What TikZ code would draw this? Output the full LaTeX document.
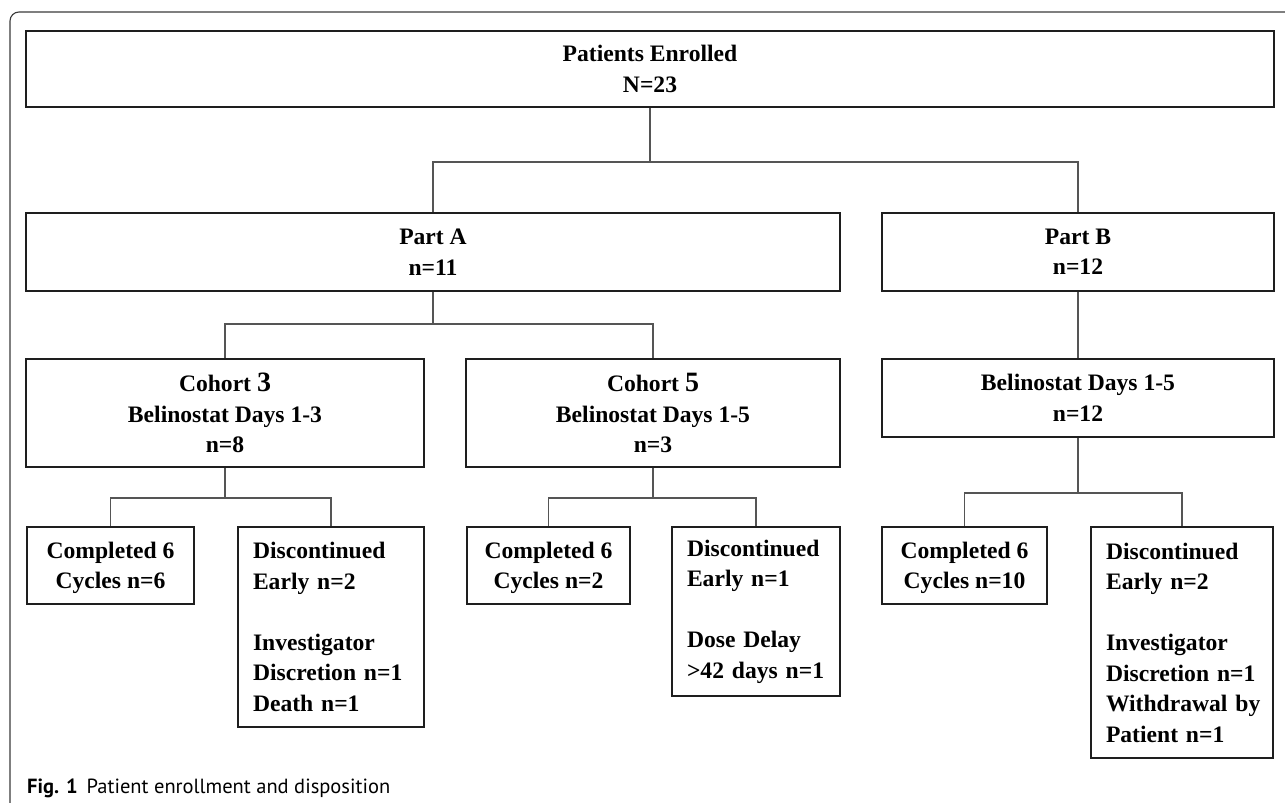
\documentclass[tikz,border=0pt]{standalone}
\usepackage{fontspec}
\setmainfont{Liberation Serif}
\newfontfamily\capfont{PT Sans}
\definecolor{boxc}{HTML}{1E1E1E}
\definecolor{connc}{HTML}{555555}
\definecolor{framec}{HTML}{3A3A3A}
\tikzset{
  box/.style={draw=boxc, line width=1.8pt, inner sep=0pt, fill=white,
    font=\bfseries\fontsize{23.6}{30.5}\selectfont, align=center},
  lbox/.style={box, align=left, text width=#1, inner xsep=15pt, inner ysep=0pt},
  cbox/.style={box, text depth=0pt},
  conn/.style={draw=connc, line width=1.2pt},
  framel/.style={draw=framec, line width=1.1pt, rounded corners=9pt},
}
\newcommand{\bignum}[1]{{\fontsize{28}{30.5}\selectfont #1}}
\begin{document}
\begin{tikzpicture}[x=1pt,y=-1pt]
\useasboundingbox (0,0) rectangle (1285,803);
\draw[framel] (10,803) -- (10,12) -- (1285,12);

\node[box, minimum width=1248pt, minimum height=76pt] (top) at (650,69) {Patients Enrolled\\N=23};
\node[box, minimum width=814pt, minimum height=78pt] (partA) at (433,252) {Part A\\n=11};
\node[box, minimum width=392pt, minimum height=78pt] (partB) at (1078,252) {Part B\\n=12};
\node[box, minimum width=398pt, minimum height=108pt] (coh3) at (225,413) {Cohort \bignum{3}\\Belinostat Days 1-3\\n=8};
\node[box, minimum width=374pt, minimum height=108pt] (coh5) at (653,413) {Cohort \bignum{5}\\Belinostat Days 1-5\\n=3};
\node[box, minimum width=392pt, minimum height=78pt] (belB) at (1078,398) {Belinostat Days 1-5\\n=12};

\node[cbox, minimum width=167pt, minimum height=77pt] (ca3) at (110.5,565.5) {Completed 6\\Cycles n=6};
\node[lbox=156pt, minimum height=200pt] (da3) at (331,627) {Discontinued\\Early~n=2\\[30.5pt]Investigator\\Discretion~n=1\\Death~n=1};
\node[cbox, minimum width=163pt, minimum height=77pt] (cc5) at (548.5,565.5) {Completed 6\\Cycles n=2};
\node[lbox=138pt, minimum height=169pt] (dc5) at (756,611.5) {Discontinued\\Early~n=1\\[30.5pt]Dose~Delay\\>42~days~n=1};
\node[cbox, minimum width=165pt, minimum height=77pt] (cb) at (964.5,565.5) {Completed 6\\Cycles n=10};
\node[lbox=152pt, minimum height=231pt] (db) at (1182,642.5) {Discontinued\\Early~n=2\\[30.5pt]Investigator\\Discretion~n=1\\Withdrawal~by\\Patient~n=1};

\draw[conn] (top.south) -- ++(0,54) -| (partA.north);
\draw[conn] (top.south) ++(0,54) -| (partB.north);
\draw[conn] (partA.south) -- ++(0,32) -| (coh3.north);
\draw[conn] (partA.south) ++(0,32) -| (coh5.north);
\draw[conn] (partB.south) -- (belB.north);
\draw[conn] (coh3.south) -- ++(0,30) -| (ca3.north);
\draw[conn] (coh3.south) ++(0,30) -| (da3.north);
\draw[conn] (coh5.south) -- ++(0,30) -| (cc5.north);
\draw[conn] (coh5.south) ++(0,30) -| (dc5.north);
\draw[conn] (belB.south) -- ++(0,55) -| (cb.north);
\draw[conn] (belB.south) ++(0,55) -| (db.north);

\node[anchor=base west, inner sep=0pt, font=\capfont\fontsize{20.5}{24}\selectfont] (cap) at (27,793) {\textbf{Fig. 1}\hspace{9pt}Patient enrollment and disposition};
\end{tikzpicture}
\end{document}
